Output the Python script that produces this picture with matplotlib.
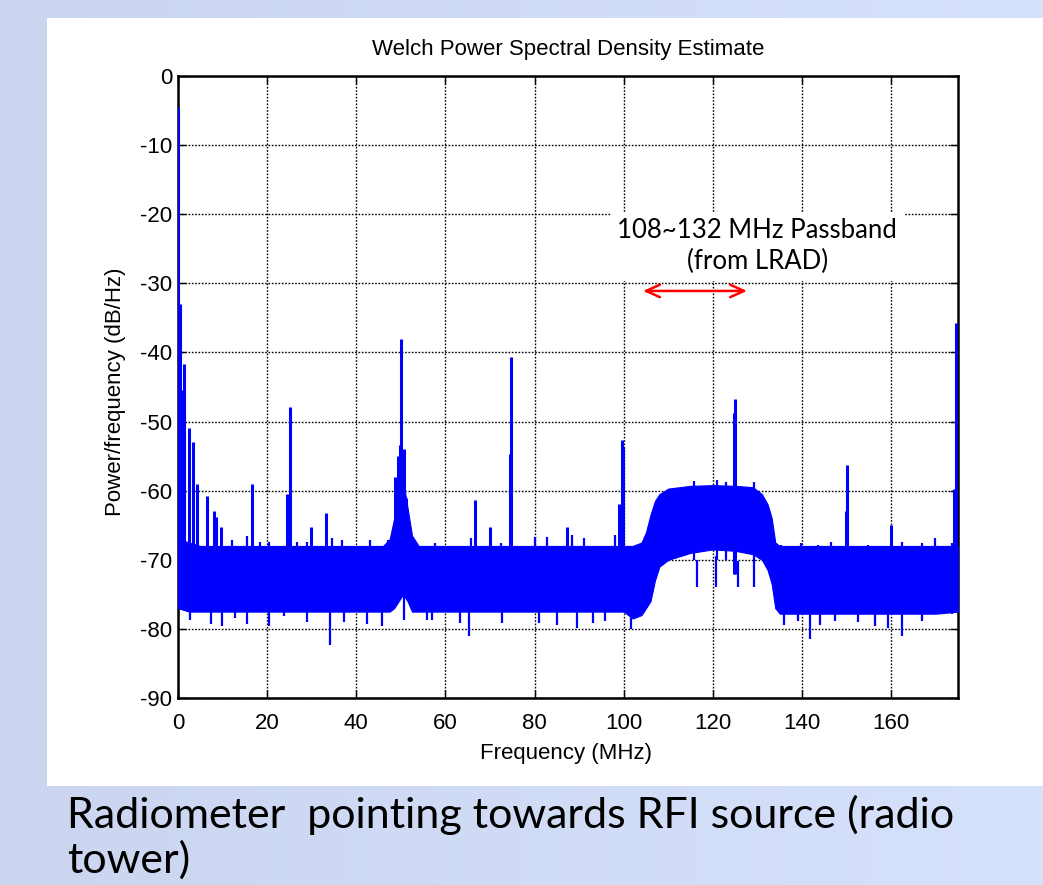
import numpy as np
import matplotlib
matplotlib.use("Agg")
import matplotlib.pyplot as plt
from matplotlib.patches import Rectangle

# ---------------- data ----------------
# noise-band envelope
env_freq = [0, 2.5, 5, 10, 20, 30, 40, 46, 47.5, 48.5, 49.5, 50.5, 51.5, 52.5, 54, 60, 70, 80, 90, 100,
            102, 104, 105, 106, 107, 108, 110, 115, 120, 125, 129, 131, 132.3, 133.2, 134, 135,
            140, 150, 160, 170, 175]
env_upper = [-67.0, -67.5, -68.0, -68.0, -68.0, -68.0, -68.0, -68.0, -67.0, -64.0, -60.0, -58.5, -62.5, -66.5, -68.0, -68.0, -68.0, -68.0, -68.0, -68.0,
             -68.0, -67.5, -66.0, -63.5, -61.5, -60.5, -59.7, -59.3, -59.2, -59.3, -59.5, -60.5, -62.0, -64.0, -67.5, -68.0,
             -68.0, -68.0, -68.0, -68.0, -68.0]
env_lower = [-77.0, -77.5, -77.5, -77.5, -77.5, -77.5, -77.5, -77.5, -77.5, -77.0, -76.0, -75.0, -76.0, -77.5, -77.5, -77.5, -77.5, -77.5, -77.5, -77.5,
             -78.5, -78.0, -77.0, -76.0, -73.0, -71.0, -70.0, -69.0, -68.5, -68.7, -69.2, -70.0, -71.5, -73.5, -77.0, -77.8,
             -77.8, -77.8, -77.8, -77.8, -77.5]

# strong narrow-band RFI lines (frequency MHz, peak dB/Hz)
spike_freq = [0.1, 0.45, 1.0, 1.3, 2.5, 3.4, 4.3, 6.6, 8.1, 8.6, 9.7, 16.6, 24.5, 25.1, 29.9, 33.1,
              48.6, 49.3, 49.8, 50.1, 50.6, 51.2, 66.7, 69.9, 74.5, 74.7, 87.3, 99.0, 99.6, 99.9,
              124.8, 125.0, 149.8, 150.0, 150.2, 160.0, 174.2, 174.6]
spike_peak = [-4.5, -33.0, -45.5, -41.6, -51.0, -53.0, -59.0, -60.8, -63.0, -63.8, -65.3, -59.0, -60.5, -47.9, -65.3, -63.3,
              -58.0, -55.0, -53.4, -38.1, -54.0, -61.0, -61.3, -65.2, -54.7, -40.7, -65.2, -62.0, -52.6, -53.7,
              -48.8, -46.8, -63.0, -59.0, -56.3, -65.0, -59.7, -35.7]

# small upward excursions above the noise band
up_freq = [12.2, 15.5, 18.5, 20.4, 26.7, 29.0, 34.6, 36.8, 43.1, 47.2, 52.1, 57.6, 65.8, 72.4, 80.1, 82.8,
           88.4, 91.0, 98.0, 103.2, 115.8, 121.0, 123.0, 129.3, 135.3, 139.8, 143.6, 146.6, 154.9, 162.4,
           166.9, 169.9, 173.7]
up_peak = [-67.1, -66.5, -67.4, -67.4, -67.4, -67.4, -66.8, -67.1, -67.1, -67.1, -65.9, -67.6, -66.9, -67.6, -66.7, -66.7,
           -66.4, -66.8, -66.4, -67.9, -58.6, -58.5, -58.8, -58.7, -67.8, -67.6, -67.8, -67.4, -67.8, -67.4,
           -67.6, -66.9, -67.6]

# downward excursions below the noise band
dn_freq = [2.8, 7.3, 9.9, 12.9, 15.5, 20.4, 23.7, 29.0, 34.0, 37.2, 42.4, 45.7, 50.6, 55.8, 56.9, 63.2,
           65.2, 72.8, 81.0, 85.0, 89.5, 93.2, 95.8, 101.6, 103.6, 116.5, 120.7, 125.6, 129.3,
           135.9, 139.1, 141.7, 144.0, 147.4, 152.6, 156.4, 159.4, 162.4, 166.9, 173.7]
dn_low = [-78.7, -79.3, -79.6, -78.4, -79.3, -79.6, -78.1, -79.0, -82.3, -79.0, -79.3, -79.6, -78.7, -78.7, -78.7, -79.2,
          -81.0, -79.2, -79.2, -79.4, -79.9, -79.2, -78.9, -80.0, -78.0, -70.0, -69.5, -70.2, -70.0,
          -79.4, -78.9, -81.5, -79.4, -78.9, -79.0, -79.6, -79.9, -81.0, -78.9, -77.9]

x_ticks = [0, 20, 40, 60, 80, 100, 120, 140, 160]
y_ticks = [0, -10, -20, -30, -40, -50, -60, -70, -80, -90]

title_text = "Welch Power Spectral Density Estimate"
xlabel_text = "Frequency (MHz)"
ylabel_text = "Power/frequency (dB/Hz)"
annot_text = "108~132 MHz Passband\n(from LRAD)"
arrow_span = [103.7, 128.3]
arrow_level = -31.1
caption_lines = ["Radiometer  pointing towards RFI source (radio", "tower)"]

# ---------------- figure ----------------
W, H = 1043, 885
fig = plt.figure(figsize=(W / 100, H / 100), dpi=100)

# slide background gradient
bg = fig.add_axes([0, 0, 1, 1], zorder=-10)
gx = np.linspace(0, 1, 256)
grad = np.zeros((2, 256, 3))
c0 = np.array([0xCB, 0xD5, 0xF0]) / 255.0
c1 = np.array([0xD6, 0xE1, 0xFC]) / 255.0
for i in range(3):
    grad[:, :, i] = c0[i] + (c1[i] - c0[i]) * gx
bg.imshow(grad, aspect="auto", extent=[0, 1, 0, 1])
bg.add_patch(Rectangle((47 / W, 1 - 786 / H), 1 - 47 / W, (786 - 18) / H,
                       facecolor="white", edgecolor="none"))
bg.set_xlim(0, 1)
bg.set_ylim(0, 1)
bg.axis("off")

ax = fig.add_axes([178 / W, 1 - 698 / H, (958 - 178) / W, (698 - 76) / H])
ax.set_facecolor("white")

blue = "#0000FF"
ax.fill_between(env_freq, env_lower, env_upper, color=blue, linewidth=0.8, edgecolor=blue, zorder=3)
ax.vlines(spike_freq, -72, spike_peak, color=blue, linewidth=2.2, zorder=3)
ax.vlines(up_freq, -70, up_peak, color=blue, linewidth=1.6, zorder=3)
ax.vlines(dn_freq, -74, dn_low, color=blue, linewidth=1.6, zorder=3)

ax.set_xlim(0, 175)
ax.set_ylim(-90, 0)
ax.set_xticks(x_ticks)
ax.set_yticks(y_ticks)
FS = 16
tfont = dict(family="Liberation Sans", size=FS)
ax.set_xticklabels([str(v) for v in x_ticks], **tfont)
ax.set_yticklabels([str(v) for v in y_ticks], **tfont)
ax.tick_params(direction="in", length=6, width=1, top=True, right=True, colors="black")
ax.tick_params(axis="x", pad=11)
ax.tick_params(axis="y", pad=4)
for s in ax.spines.values():
    s.set_linewidth(1.8)
ax.grid(True, color="black", linestyle=(0, (1.2, 1.2)), linewidth=1.0, zorder=1)
ax.set_axisbelow(True)

fig.text(568 / W, 1 - 50 / H, title_text, ha="center", va="center", fontsize=FS, family="Liberation Sans")
fig.text(566 / W, 1 - 754 / H, xlabel_text, ha="center", va="center", fontsize=FS, family="Liberation Sans")
fig.text(115 / W, 1 - 392 / H, ylabel_text, ha="center", va="center", rotation=90, fontsize=FS,
         family="Liberation Sans")

ax.text(130.0, -24.6, annot_text, ha="center", va="center", fontsize=18.5, family="Lato",
        linespacing=1.25, zorder=5,
        bbox=dict(facecolor="white", edgecolor="none", pad=5))
ax.annotate("", xy=(arrow_span[0], arrow_level), xytext=(arrow_span[1], arrow_level),
            arrowprops=dict(arrowstyle="<->,head_length=1.0,head_width=0.45", color="#FF0000", lw=1.8),
            zorder=6)

fig.text(67 / W, 1 - 815 / H, caption_lines[0], ha="left", va="center", fontsize=31, family="Lato")
fig.text(67 / W, 1 - 860 / H, caption_lines[1], ha="left", va="center", fontsize=31, family="Lato")

fig.savefig("out.png", dpi=100)
